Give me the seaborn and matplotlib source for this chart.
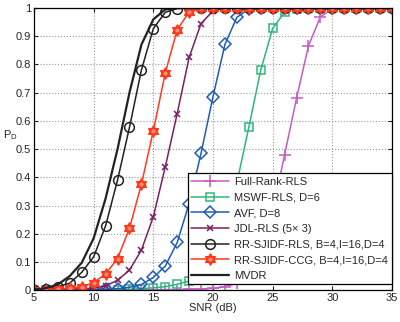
import numpy as np
import pandas as pd
import matplotlib
matplotlib.use('Agg')
import matplotlib.pyplot as plt
from matplotlib.path import Path
import seaborn as sns

# Datos (P_D vs SNR)
snr = list(range(5, 36))

full_rank = [0, 0, 0, 0, 0, 0, 0, 0, 0.001, 0.001, 0.001, 0.002, 0.002, 0.003, 0.004,
             0.006, 0.012, 0.025, 0.06, 0.14, 0.28, 0.48, 0.68, 0.866, 0.969, 0.997,
             1, 1, 1, 1, 1]
mswf = [0, 0, 0, 0, 0, 0, 0.001, 0.002, 0.003, 0.005, 0.008, 0.012, 0.021, 0.032, 0.06,
        0.11, 0.2, 0.38, 0.577, 0.78, 0.928, 0.985, 0.998, 1, 1, 1, 1, 1, 1, 1, 1]
avf = [0.001, 0.001, 0.001, 0.001, 0.002, 0.002, 0.003, 0.005, 0.01, 0.02, 0.045, 0.085,
       0.169, 0.307, 0.485, 0.686, 0.871, 0.967, 0.997, 1, 1, 1, 1, 1, 1, 1, 1, 1, 1, 1, 1]
jdl = [0.001, 0.001, 0.002, 0.003, 0.004, 0.007, 0.015, 0.035, 0.071, 0.142, 0.26, 0.437,
       0.626, 0.825, 0.945, 0.99, 1, 1, 1, 1, 1, 1, 1, 1, 1, 1, 1, 1, 1, 1, 1]
rr_rls = [0.001, 0.004, 0.012, 0.025, 0.063, 0.118, 0.228, 0.39, 0.577, 0.78, 0.927, 0.985,
          0.998, 1, 1, 1, 1, 1, 1, 1, 1, 1, 1, 1, 1, 1, 1, 1, 1, 1, 1]
rr_ccg = [0.001, 0.002, 0.003, 0.006, 0.012, 0.027, 0.057, 0.112, 0.219, 0.375, 0.565, 0.77,
          0.923, 0.986, 1, 1, 1, 1, 1, 1, 1, 1, 1, 1, 1, 1, 1, 1, 1, 1, 1]
mvdr = [0.002, 0.007, 0.02, 0.05, 0.097, 0.184, 0.325, 0.5, 0.7, 0.87, 0.96, 0.995,
        1, 1, 1, 1, 1, 1, 1, 1, 1, 1, 1, 1, 1, 1, 1, 1, 1, 1, 1]

# Marcador estrella de David (dos triangulos)
ang1 = np.deg2rad([90, 210, 330])
ang2 = np.deg2rad([270, 30, 150])
verts = [(np.cos(a), np.sin(a)) for a in ang1] + [(0, 0)] + \
        [(np.cos(a), np.sin(a)) for a in ang2] + [(0, 0)]
codes = [Path.MOVETO, Path.LINETO, Path.LINETO, Path.CLOSEPOLY] * 2
hexagram = Path(verts, codes)

series = [
    ('Full-Rank-RLS', full_rank, '#c65ac6', '+', 8, 'none'),
    ('MSWF-RLS, D=6', mswf, '#2eb67d', 's', 6, 'none'),
    ('AVF, D=8', avf, '#1f5cb8', 'D', 6, 'none'),
    ('JDL-RLS (5\u00d7 3)', jdl, '#7a1f62', 'x', 5, 'none'),
    ('RR-SJIDF-RLS, B=4,I=16,D=4', rr_rls, '#222222', 'o', 7, 'none'),
    ('RR-SJIDF-CCG, B=4,I=16,D=4', rr_ccg, '#ff3a1c', hexagram, 8, '#ff8f7a'),
    ('MVDR', mvdr, '#222222', None, 0, 'none'),
]

sns.set_style('white')
plt.rcParams['font.family'] = ['Liberation Sans', 'DejaVu Sans']

fig = plt.figure(figsize=(4.0, 3.22), dpi=100)
ax = fig.add_axes([0.085, 0.099, 0.895, 0.876])

for name, vals, color, mk, ms, mfc in series:
    df = pd.DataFrame({'snr': snr, 'pd': vals})
    lw = 1.6 if name == 'MVDR' else 1.1
    sns.lineplot(data=df, x='snr', y='pd', ax=ax, color=color, marker=mk,
                 markersize=ms, markerfacecolor=mfc, markeredgecolor=color,
                 markeredgewidth=1.1, linewidth=lw, label=name)

ax.set_xlim(5, 35)
ax.set_ylim(0, 1)
ax.set_xticks([5, 10, 15, 20, 25, 30, 35])
ax.set_yticks(np.arange(0, 1.01, 0.1))
ax.set_yticklabels(['0', '0.1', '0.2', '0.3', '0.4', '0.5', '0.6', '0.7', '0.8', '0.9', '1'])
ax.tick_params(direction='in', length=3, labelsize=8, top=True, right=True,
               bottom=True, left=True, pad=2)
ax.grid(True, linestyle=':', color='#999999', linewidth=0.8)
for s in ax.spines.values():
    s.set_color('black')
    s.set_linewidth(0.9)

ax.set_xlabel('SNR (dB)', fontsize=8, labelpad=0)
ax.set_ylabel('P$_\\mathregular{D}$', fontsize=8, rotation=0, va='center', ha='center')
ax.yaxis.set_label_coords(-0.065, 0.55)

leg = ax.legend(loc='lower right', bbox_to_anchor=(1.0, 0.02), borderaxespad=0,
                fontsize=8, handlelength=3.4, handletextpad=0.45, labelspacing=0.5,
                borderpad=0.35, fancybox=False, framealpha=1, edgecolor='black')
leg.get_frame().set_linewidth(0.9)

fig.savefig('out.png', dpi=100)
